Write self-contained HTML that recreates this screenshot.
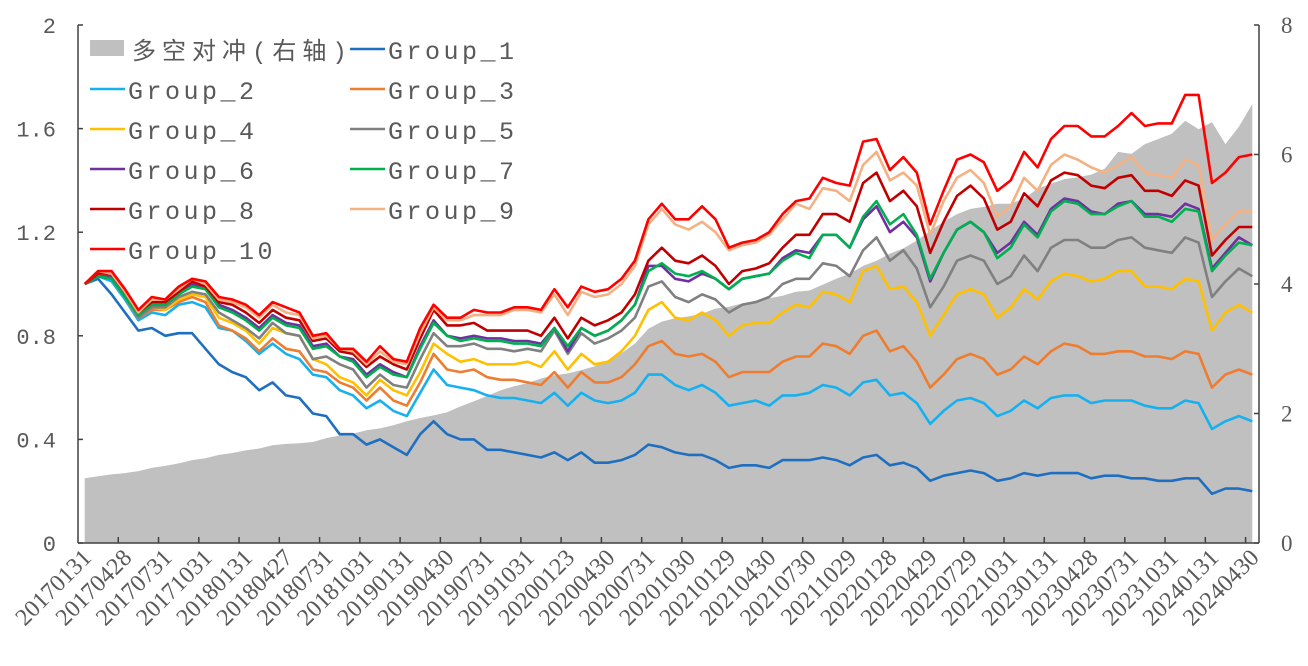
<!DOCTYPE html>
<html><head><meta charset="utf-8"><style>
body{margin:0;background:#fff;}
svg{display:block;}
text{fill:#595959;}
</style></head><body>
<svg id="chart" width="1308" height="666" xmlns="http://www.w3.org/2000/svg"></svg>
<script>
const months = ["20170131","20170228","20170331","20170428","20170531","20170630","20170731","20170831","20170929","20171031","20171130","20171229","20180131","20180228","20180330","20180427","20180531","20180629","20180731","20180831","20180928","20181031","20181130","20181228","20190131","20190228","20190329","20190430","20190531","20190628","20190731","20190830","20190930","20191031","20191129","20191231","20200123","20200228","20200331","20200430","20200529","20200630","20200731","20200831","20200930","20201030","20201130","20201231","20210129","20210226","20210331","20210430","20210531","20210630","20210730","20210831","20210930","20211029","20211130","20211231","20220128","20220228","20220331","20220429","20220531","20220630","20220729","20220831","20220930","20221031","20221130","20221230","20230131","20230228","20230331","20230428","20230531","20230630","20230731","20230831","20230928","20231031","20231130","20231229","20240131","20240229","20240329","20240430"];
const leftTicks = [0,0.4,0.8,1.2,1.6,2];
const leftTickLabels = ["0","0.4","0.8","1.2","1.6","2"];
const rightTicks = [0,2,4,6,8];
const rightTickLabels = ["0","2","4","6","8"];
const spread = [1.00,1.03,1.06,1.08,1.11,1.16,1.19,1.23,1.28,1.31,1.36,1.39,1.43,1.46,1.51,1.53,1.54,1.56,1.62,1.66,1.69,1.74,1.77,1.82,1.88,1.93,1.97,2.02,2.11,2.19,2.27,2.36,2.42,2.47,2.54,2.59,2.62,2.67,2.73,2.82,2.93,3.08,3.31,3.42,3.47,3.50,3.54,3.62,3.65,3.70,3.74,3.78,3.82,3.88,3.90,3.99,4.08,4.16,4.28,4.36,4.47,4.55,4.67,4.82,4.96,5.08,5.16,5.19,5.24,5.24,5.32,5.47,5.55,5.62,5.65,5.69,5.78,6.04,6.01,6.16,6.24,6.32,6.52,6.39,6.50,6.16,6.43,6.78];
const g1 = [1.00,1.02,0.96,0.89,0.82,0.83,0.80,0.81,0.81,0.75,0.69,0.66,0.64,0.59,0.62,0.57,0.56,0.50,0.49,0.42,0.42,0.38,0.40,0.37,0.34,0.42,0.47,0.42,0.40,0.40,0.36,0.36,0.35,0.34,0.33,0.35,0.32,0.35,0.31,0.31,0.32,0.34,0.38,0.37,0.35,0.34,0.34,0.32,0.29,0.30,0.30,0.29,0.32,0.32,0.32,0.33,0.32,0.30,0.33,0.34,0.30,0.31,0.29,0.24,0.26,0.27,0.28,0.27,0.24,0.25,0.27,0.26,0.27,0.27,0.27,0.25,0.26,0.26,0.25,0.25,0.24,0.24,0.25,0.25,0.19,0.21,0.21,0.20];
const g2 = [1.00,1.03,1.01,0.94,0.86,0.89,0.88,0.92,0.93,0.91,0.83,0.82,0.78,0.73,0.77,0.73,0.71,0.65,0.64,0.59,0.57,0.52,0.55,0.51,0.49,0.58,0.67,0.61,0.60,0.59,0.57,0.56,0.56,0.55,0.54,0.58,0.53,0.58,0.55,0.54,0.55,0.58,0.65,0.65,0.61,0.59,0.61,0.58,0.53,0.54,0.55,0.53,0.57,0.57,0.58,0.61,0.60,0.57,0.62,0.63,0.57,0.58,0.54,0.46,0.51,0.55,0.56,0.54,0.49,0.51,0.55,0.52,0.56,0.57,0.57,0.54,0.55,0.55,0.55,0.53,0.52,0.52,0.55,0.54,0.44,0.47,0.49,0.47];
const g3 = [1.00,1.03,1.02,0.95,0.87,0.90,0.90,0.93,0.95,0.93,0.84,0.82,0.79,0.74,0.79,0.75,0.74,0.67,0.66,0.62,0.60,0.55,0.60,0.55,0.53,0.62,0.73,0.67,0.66,0.67,0.64,0.63,0.63,0.62,0.61,0.66,0.60,0.66,0.62,0.62,0.64,0.69,0.76,0.78,0.73,0.72,0.73,0.70,0.64,0.66,0.66,0.66,0.70,0.72,0.72,0.77,0.76,0.73,0.80,0.82,0.74,0.76,0.70,0.60,0.65,0.71,0.73,0.71,0.65,0.67,0.72,0.69,0.74,0.77,0.76,0.73,0.73,0.74,0.74,0.72,0.72,0.71,0.74,0.73,0.60,0.65,0.67,0.65];
const g4 = [1.00,1.03,1.02,0.95,0.87,0.91,0.90,0.94,0.96,0.95,0.87,0.85,0.82,0.77,0.83,0.81,0.80,0.71,0.69,0.64,0.62,0.57,0.63,0.59,0.57,0.66,0.77,0.73,0.70,0.71,0.69,0.69,0.69,0.70,0.68,0.74,0.67,0.73,0.69,0.70,0.74,0.80,0.90,0.93,0.87,0.86,0.89,0.86,0.80,0.84,0.85,0.85,0.89,0.92,0.91,0.97,0.96,0.93,1.05,1.07,0.98,0.99,0.93,0.80,0.88,0.96,0.98,0.96,0.87,0.91,0.98,0.94,1.01,1.04,1.03,1.01,1.02,1.05,1.05,0.99,0.99,0.98,1.02,1.01,0.82,0.89,0.92,0.89];
const g5 = [1.00,1.03,1.02,0.95,0.87,0.91,0.91,0.95,0.97,0.96,0.89,0.86,0.83,0.79,0.85,0.81,0.80,0.71,0.72,0.69,0.67,0.60,0.65,0.61,0.60,0.71,0.81,0.76,0.76,0.77,0.75,0.75,0.74,0.75,0.74,0.82,0.73,0.81,0.77,0.79,0.82,0.87,0.99,1.01,0.95,0.93,0.96,0.94,0.89,0.92,0.93,0.95,1.00,1.02,1.02,1.08,1.07,1.03,1.13,1.18,1.09,1.13,1.06,0.91,0.99,1.09,1.11,1.09,1.00,1.03,1.11,1.05,1.14,1.17,1.17,1.14,1.14,1.17,1.18,1.14,1.13,1.12,1.18,1.16,0.95,1.01,1.06,1.03];
const g6 = [1.00,1.03,1.03,0.96,0.88,0.92,0.92,0.96,1.00,0.98,0.92,0.90,0.87,0.83,0.88,0.85,0.84,0.76,0.77,0.72,0.71,0.65,0.69,0.66,0.64,0.76,0.86,0.80,0.79,0.80,0.79,0.79,0.78,0.78,0.77,0.83,0.74,0.83,0.80,0.82,0.86,0.92,1.07,1.07,1.02,1.01,1.04,1.02,0.98,1.02,1.03,1.04,1.10,1.13,1.12,1.19,1.19,1.14,1.25,1.30,1.20,1.24,1.18,1.01,1.12,1.21,1.24,1.20,1.12,1.16,1.24,1.19,1.29,1.33,1.32,1.28,1.27,1.31,1.32,1.27,1.27,1.26,1.31,1.29,1.06,1.12,1.18,1.15];
const g7 = [1.00,1.03,1.02,0.95,0.88,0.92,0.92,0.96,0.99,0.98,0.91,0.89,0.86,0.82,0.87,0.84,0.83,0.75,0.76,0.72,0.70,0.64,0.68,0.65,0.64,0.75,0.85,0.80,0.78,0.79,0.78,0.78,0.77,0.77,0.76,0.83,0.76,0.83,0.80,0.82,0.86,0.92,1.05,1.08,1.04,1.03,1.05,1.02,0.98,1.02,1.03,1.04,1.09,1.12,1.10,1.19,1.19,1.14,1.26,1.32,1.23,1.27,1.19,1.02,1.12,1.21,1.24,1.20,1.10,1.14,1.23,1.18,1.28,1.32,1.31,1.27,1.27,1.30,1.32,1.26,1.26,1.24,1.29,1.28,1.05,1.11,1.16,1.15];
const g8 = [1.00,1.04,1.04,0.97,0.89,0.93,0.93,0.97,1.01,0.99,0.93,0.92,0.89,0.85,0.90,0.87,0.86,0.78,0.79,0.74,0.73,0.68,0.72,0.69,0.67,0.79,0.90,0.84,0.84,0.85,0.82,0.82,0.82,0.82,0.80,0.87,0.79,0.87,0.84,0.86,0.89,0.96,1.09,1.14,1.09,1.08,1.11,1.07,1.00,1.05,1.06,1.08,1.14,1.19,1.19,1.27,1.27,1.24,1.39,1.43,1.32,1.36,1.30,1.12,1.24,1.34,1.38,1.33,1.21,1.24,1.35,1.30,1.40,1.43,1.42,1.38,1.37,1.41,1.42,1.36,1.36,1.34,1.40,1.38,1.11,1.17,1.22,1.22];
const g9 = [1.00,1.05,1.04,0.97,0.89,0.94,0.94,0.98,1.02,1.00,0.94,0.93,0.91,0.87,0.92,0.89,0.88,0.79,0.80,0.75,0.74,0.69,0.74,0.70,0.69,0.81,0.91,0.86,0.86,0.88,0.88,0.88,0.90,0.90,0.89,0.96,0.88,0.97,0.95,0.96,1.00,1.07,1.23,1.29,1.23,1.21,1.24,1.20,1.13,1.15,1.16,1.19,1.25,1.31,1.29,1.37,1.36,1.32,1.46,1.51,1.40,1.43,1.38,1.19,1.32,1.41,1.44,1.39,1.26,1.30,1.41,1.36,1.46,1.50,1.48,1.45,1.43,1.46,1.49,1.43,1.42,1.41,1.48,1.46,1.17,1.23,1.28,1.28];
const g10 = [1.00,1.05,1.05,0.98,0.90,0.95,0.94,0.99,1.02,1.01,0.95,0.94,0.92,0.88,0.93,0.91,0.89,0.80,0.81,0.75,0.75,0.70,0.76,0.71,0.70,0.83,0.92,0.87,0.87,0.90,0.89,0.89,0.91,0.91,0.90,0.98,0.91,0.99,0.97,0.98,1.02,1.09,1.25,1.31,1.25,1.25,1.30,1.25,1.14,1.16,1.17,1.20,1.27,1.32,1.33,1.41,1.39,1.38,1.55,1.56,1.44,1.49,1.43,1.23,1.36,1.48,1.50,1.47,1.36,1.40,1.51,1.45,1.56,1.61,1.61,1.57,1.57,1.61,1.66,1.61,1.62,1.62,1.73,1.73,1.39,1.43,1.49,1.50];
const seriesNames = ["Group_1","Group_2","Group_3","Group_4","Group_5","Group_6","Group_7","Group_8","Group_9","Group_10"];
const seriesData = [g1,g2,g3,g4,g5,g6,g7,g8,g9,g10];
const seriesColors = ["#1f6fc0","#17b0ef","#ed7d31","#ffc000","#808080","#7030a0","#00b050","#c00000","#f4b183","#ff0000"];

const NS="http://www.w3.org/2000/svg";
const svg=document.getElementById('chart');
const X0=78,X1=1259,Y0=543,Y1=25;
const catW=(X1-X0)/months.length;
function xs(i){return X0+(i+0.5)*catW;}
function yl(v){return Y0-(v/2)*(Y0-Y1);}
function yr(v){return Y0-(v/8)*(Y0-Y1);}
function mk(tag,attrs,parent){const e=document.createElementNS(NS,tag);for(const k in attrs)e.setAttribute(k,attrs[k]);(parent||svg).appendChild(e);return e;}

let d='M'+xs(0)+','+yr(0);
spread.forEach((v,i)=>{d+=' L'+xs(i).toFixed(1)+','+yr(v).toFixed(1);});
d+=' L'+xs(spread.length-1)+','+yr(0)+' Z';
const area=mk('path',{d:d,fill:'#c0c0c0'});



seriesData.forEach((arr,s)=>{
  const pts=arr.map((v,i)=>xs(i).toFixed(1)+','+yl(v).toFixed(1)).join(' ');
  const pl=mk('polyline',{points:pts,fill:'none',stroke:seriesColors[s],'stroke-width':2.6,'stroke-linejoin':'round'});
  
  
});

const axL=mk('line',{x1:X0,y1:Y1,x2:X0,y2:Y0,stroke:'#404040','stroke-width':1.5});


const axR=mk('line',{x1:X1,y1:Y1,x2:X1,y2:Y0,stroke:'#404040','stroke-width':1.5});


const axX=mk('line',{x1:X0,y1:Y0,x2:X1,y2:Y0,stroke:'#404040','stroke-width':1.5});



leftTicks.forEach((v,k)=>{
  mk('line',{x1:X0,y1:yl(v),x2:X0+5,y2:yl(v),stroke:'#404040','stroke-width':1.5});
  const t=mk('text',{x:X0-22,y:yl(v)+8,'text-anchor':'end','font-family':'Liberation Mono, monospace','font-size':22});
  t.textContent=leftTickLabels[k];
  
  
});
rightTicks.forEach((v,k)=>{
  mk('line',{x1:X1-5,y1:yr(v),x2:X1,y2:yr(v),stroke:'#404040','stroke-width':1.5});
  const t=mk('text',{x:X1+22,y:yr(v)+8,'text-anchor':'start','font-family':'Liberation Serif, serif','font-size':23});
  t.textContent=rightTickLabels[k];
  
  
});
months.forEach((m,i)=>{
  if(i%3===0){
    if(i>0) mk('line',{x1:X0+i*catW,y1:Y0-6,x2:X0+i*catW,y2:Y0,stroke:'#404040','stroke-width':1.5});
    const x=xs(i)+8,y=Y0+16;
    const t=mk('text',{x:x,y:y,'text-anchor':'end','font-family':'Liberation Serif, serif','font-size':24,transform:'rotate(-45 '+x+' '+y+')'});
    t.textContent=m;
    
    
  }
});

const lg=mk('g',{});


mk('rect',{x:90,y:40,width:34,height:16,fill:'#c0c0c0'},lg);
const lt=mk('text',{x:132,y:59,'font-family':'Liberation Mono, Noto Sans CJK SC, monospace','font-size':24,'letter-spacing':6},lg);
lt.textContent='多空对冲(右轴)';


const slots=[[350,49],[90,89],[350,89],[90,129],[350,129],[90,169],[350,169],[90,209],[350,209],[90,249]];
seriesNames.forEach((nm,s)=>{
  const [lx,ly]=slots[s];
  const e=mk('g',{},lg);
  
  
  mk('line',{x1:lx,y1:ly,x2:lx+35,y2:ly,stroke:seriesColors[s],'stroke-width':2.6},e);
  const t=mk('text',{x:lx+38,y:ly+10,'font-family':'Liberation Mono, monospace','font-size':25,'letter-spacing':3.5},e);
  t.textContent=nm;
});
</script>
</body></html>
